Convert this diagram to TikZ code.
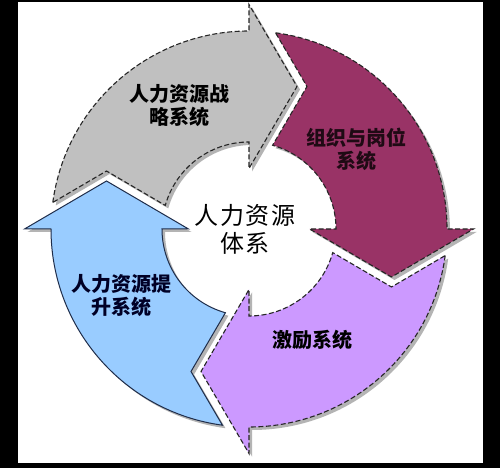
\documentclass[tikz,border=0pt]{standalone}
\usepackage{fontspec}
\setmainfont{Noto Sans CJK SC}
\newfontfamily\cjkc[LetterSpace=8]{Noto Sans CJK SC}
\definecolor{grayfill}{HTML}{C0C0C0}
\definecolor{plumfill}{HTML}{993366}
\definecolor{lavfill}{HTML}{CC99FF}
\definecolor{bluefill}{HTML}{99CCFF}
\definecolor{navyline}{HTML}{1F2D4A}
\definecolor{shadowc}{HTML}{B4B4B4}
\newcommand\cycarrow{(172.3:198) arc[start angle=172.3,end angle=90,radius=198] -- (90:224.5) -- (48,142.5) -- (90:60.5) -- (90:87) arc[start angle=90,end angle=164.26,radius=87] -- (-142.5,58) -- cycle}
\tikzset{
  dashout/.style={draw=black!85, line width=1.1pt, dash pattern=on 5pt off 2.5pt},
  solidout/.style={draw=navyline, line width=1pt},
  lab/.style={font=\fontsize{20}{23}\selectfont\bfseries, align=center, inner sep=0pt},
  ctr/.style={font=\cjkc\fontsize{24}{28}\selectfont, align=center, inner sep=0pt}
}
\begin{document}
\begin{tikzpicture}[x=1pt,y=1pt]
\fill[black] (-249,229) rectangle (251,-239);
\fill[white] (-231,227) rectangle (234,-234);
% shadows
\begin{scope}[shift={(3,-3)}]
  \foreach \r in {0,-90,-180,-270} {
    \begin{scope}[rotate=\r]
      \fill[shadowc] \cycarrow;
    \end{scope}
  }
\end{scope}
% arrows
\begin{scope}[rotate=0]
  \path[fill=grayfill, dashout] \cycarrow;
\end{scope}
\begin{scope}[rotate=-90]
  \path[fill=plumfill, dashout] \cycarrow;
\end{scope}
\begin{scope}[rotate=-180]
  \path[fill=lavfill, dashout] \cycarrow;
\end{scope}
\begin{scope}[rotate=-270]
  \path[fill=bluefill, solidout] \cycarrow;
\end{scope}
% labels
\node[lab] (strat) at (-69,123.5) {人力资源战\\略系统};
\node[lab, text=black!80!plumfill] (org) at (107,79.5) {组织与岗位\\系统};
\node[ctr] (core) at (-4,0) {人力资源\\体系};
\node[lab, text=black!85!blue] (dev) at (-127,-66.5) {人力资源提\\升系统};
\node[lab] (inc) at (63,-111) {激励系统};
\end{tikzpicture}
\end{document}
